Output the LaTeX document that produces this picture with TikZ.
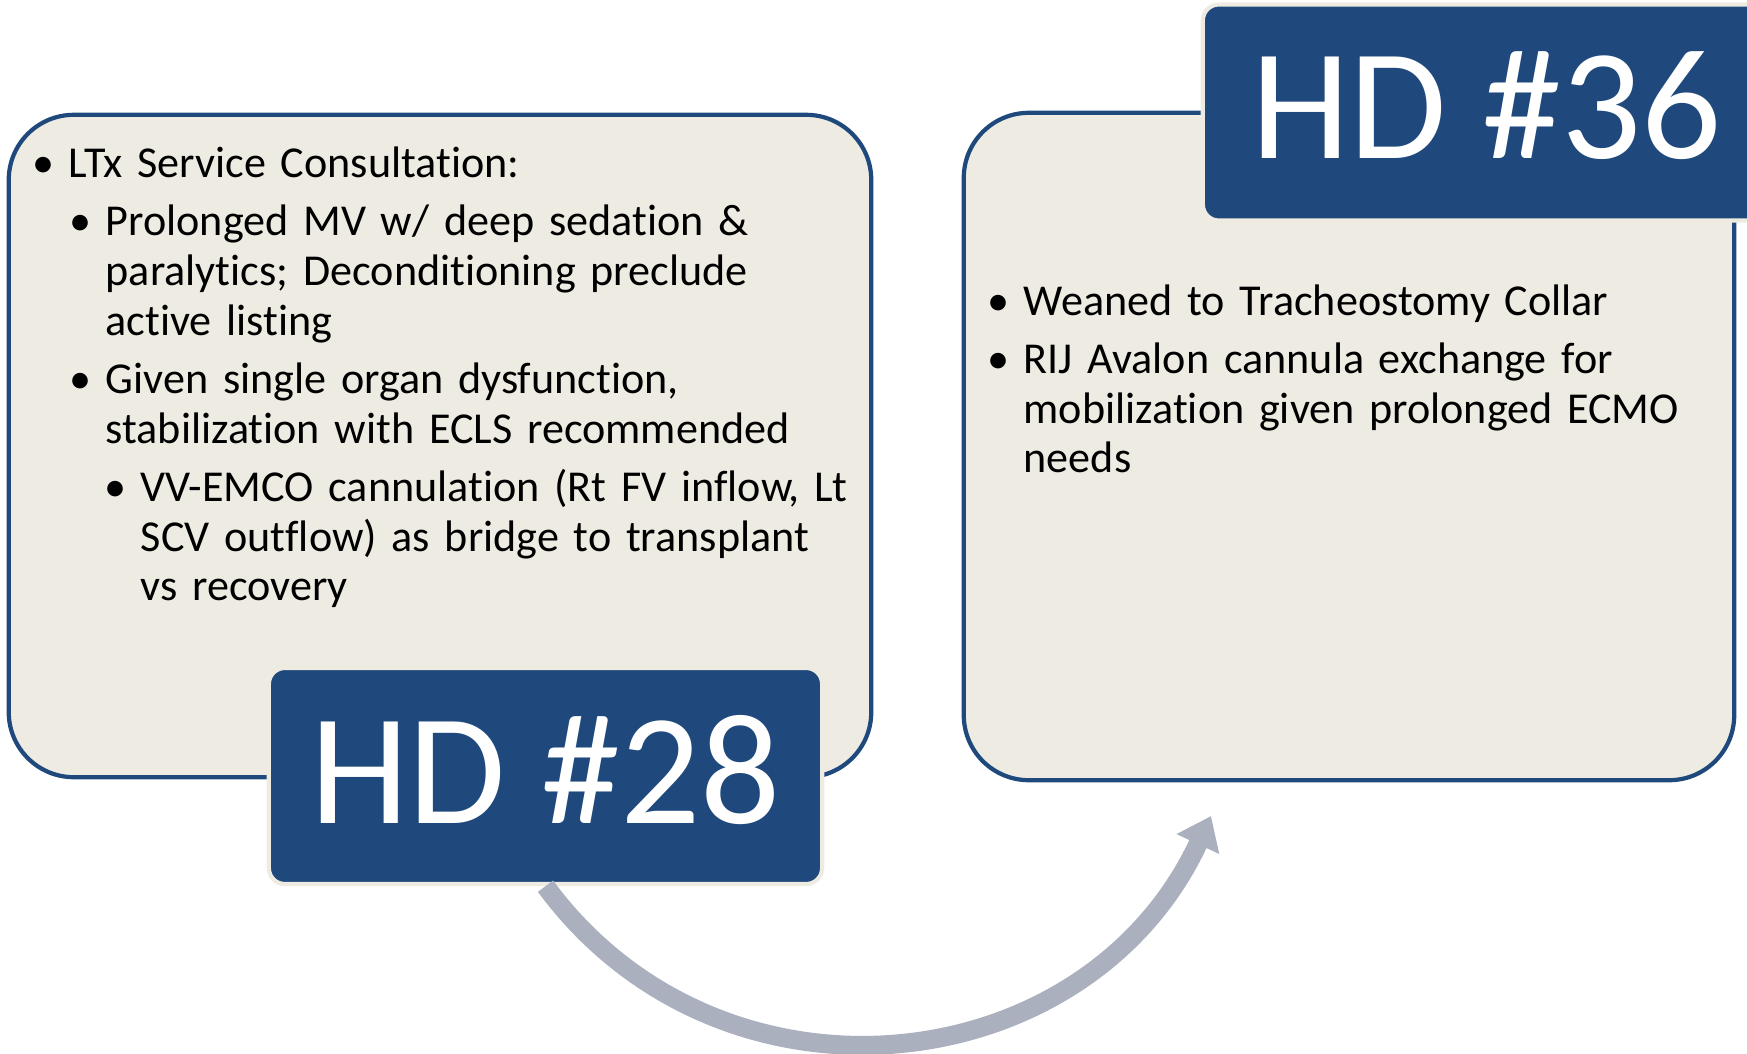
\documentclass[tikz,border=0pt]{standalone}
\usepackage{fontspec}
\setmainfont{Carlito}[Ligatures = NoCommon]
\usepackage{enumitem}
\usetikzlibrary{arrows.meta}

\definecolor{cardfill}{HTML}{EEECE2}
\definecolor{navyline}{HTML}{1F497D}
\definecolor{flowgrey}{HTML}{ABB0BF}

% bullet lists inside the cards
\setlist[itemize]{label=\makebox[0pt]{\textbullet}, labelwidth=0pt,
  labelsep=0.25cm, align=right, topsep=2.5pt, partopsep=0pt,
  parsep=0pt, itemsep=2.5pt}
\setlist[itemize,1]{leftmargin=0.38cm}
\setlist[itemize,2]{leftmargin=0.37cm}
\setlist[itemize,3]{leftmargin=0.35cm}

\begin{document}
\begin{tikzpicture}[
    x = 0.01cm, y = 0.01cm,
    card/.style = {draw = navyline, line width = 1.2pt, fill = cardfill,
      rounded corners = 0.65cm, inner sep = 0pt},
    daybox/.style = {draw = cardfill, line width = 1.2pt, fill = navyline,
      rounded corners = 0.16cm, text = white,
      font = \fontsize{45}{50}\selectfont, text depth = 4pt,
      minimum width = 5.53cm, minimum height = 2.16cm, inner sep = 0pt},
    notes/.style = {anchor = north west, inner sep = 0pt, align = left,
      font = \fontsize{12.55}{14.1}\selectfont},
    flowarrow/.style = {draw = flowgrey, line width = 5.4pt,
      -{Triangle[length = 8.8pt, width = 12.8pt]}}
    ]
    \clip (0, 0) rectangle (1747, 1053);

    \node at (440, 607) [card, minimum width = 8.62cm, minimum height = 6.62cm, name = consult] {};
    \node at (1349, 606.5) [card, minimum width = 7.70cm, minimum height = 6.67cm, name = wean] {};

    \node at (30, 934.5) [notes, text width = 8.5cm, name = consultnotes] {%
      \begin{itemize}
      \item LTx Service Consultation:
        \begin{itemize}
        \item Prolonged MV w/ deep sedation \&\\ paralytics; Deconditioning preclude\\ active listing
        \item Given single organ dysfunction,\\ stabilization with ECLS recommended
          \begin{itemize}
          \item VV-EMCO cannulation (Rt FV inflow, Lt\\ SCV outflow) as bridge to transplant\\ vs recovery
          \end{itemize}
        \end{itemize}
      \end{itemize}};
    \node at (985, 797) [notes, text width = 7.3cm, name = weannotes] {%
      \begin{itemize}
      \item Weaned to Tracheostomy Collar
      \item RIJ Avalon cannula exchange for\\ mobilization given prolonged ECMO\\ needs
      \end{itemize}};

    \node at (545.5, 277) [daybox, name = hd28] {HD \#28};
    \node at (1486.5, 940.5) [daybox, minimum width = 5.67cm, name = hd36] {HD \#36};

    \coordinate (tip) at (1211, 237);
    \draw [flowarrow] (hd28.south) to [out = -53.6, in = 245, looseness = 1.13] (tip);

  \end{tikzpicture}
\end{document}
